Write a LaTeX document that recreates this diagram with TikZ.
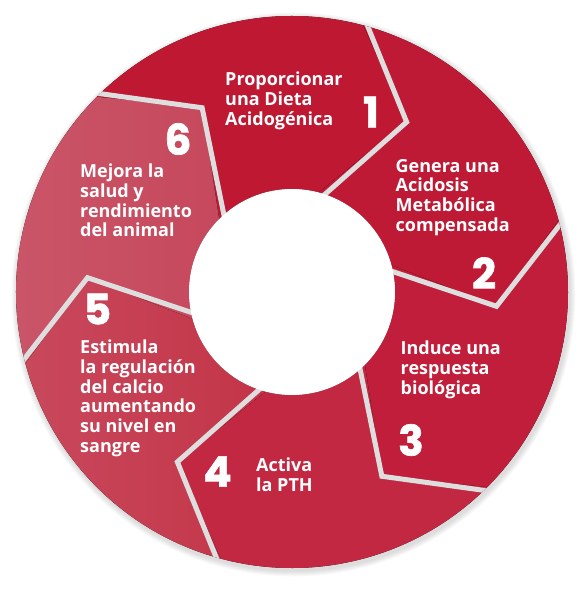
\documentclass[tikz,border=0pt]{standalone}
\usepackage{fontspec}
\newfontfamily\txtfont{Open Sans}
\newfontfamily\numfont{Poppins}[BoldFeatures={FakeBold=1.6}]

\definecolor{rojoA}{HTML}{BE1833}
\definecolor{rojoB}{HTML}{BE1A35}
\definecolor{rojoC}{HTML}{C01E3A}
\definecolor{rojoD}{HTML}{C22842}
\definecolor{rojoE}{HTML}{C33548}
\definecolor{rojoEl}{HTML}{C9485C}
\definecolor{rojoF}{HTML}{C6485C}
\definecolor{rojoFl}{HTML}{CB5669}
\definecolor{lineagris}{HTML}{DEDEDE}

\tikzset{
  etapa/.style={text=white, font=\txtfont\bfseries\fontsize{18}{19.7}\selectfont,
    align=left, anchor=north west, inner sep=0pt},
  numero/.style={text=white, font=\numfont\bfseries\fontsize{42}{42}\selectfont, inner sep=0pt},
  borde/.style={draw=lineagris, line width=5pt, line join=miter},
}

\begin{document}
\begin{tikzpicture}[x=1pt,y=1pt]
    \useasboundingbox (-292,-297) rectangle (296,292);

    % Centre et rayons
    \coordinate (O) at (0,0);
    \def\Rext{276}
    \def\Rint{103}
    \def\Rpun{205}

    % Ombre du disque
    \foreach \i in {1,...,6}
        \fill[black, opacity=0.025] (1.5,-2.5) circle[radius=\Rext+\i];

    % Secteurs (fleches dans le sens horaire)
    \foreach \k/\izq/\der in {1/rojoA/rojoA, 2/rojoB/rojoB, 3/rojoC/rojoC,
                              4/rojoD/rojoD, 5/rojoEl/rojoE, 6/rojoFl/rojoF}{
        \pgfmathsetmacro\ang{135-60*(\k-1)}
        \pgfmathsetmacro\fin{\ang-60}
        \pgfmathsetmacro\pa{\ang-19}
        \pgfmathsetmacro\pb{\ang-79}
        \fill[left color=\izq, right color=\der]
            (\ang:\Rext) arc[start angle=\ang, end angle=\fin, radius=\Rext]
            -- (\pb:\Rpun) -- (\fin:\Rint)
            arc[start angle=\fin, end angle=\ang, radius=\Rint]
            -- (\pa:\Rpun) -- cycle;
    }

    % Bordes en chevron
    \begin{scope}
        \clip (O) circle[radius=\Rext];
        \foreach \k in {0,...,5}{
            \pgfmathsetmacro\ang{75-60*\k}
            \pgfmathsetmacro\pa{\ang-19}
            \draw[borde] (\ang:\Rint-10) -- (\pa:\Rpun) -- (\ang:\Rext+6);
        }
    \end{scope}

    % Disque central
    \fill[white] (O) circle[radius=\Rint];

    % Textes
    \node[etapa] (t1) at (-67,220) {Proporcionar\\una Dieta\\Acidogénica};
    \node[etapa] (t2) at (103.5,133) {Genera una\\Acidosis\\Metabólica\\compensada};
    \node[etapa] (t3) at (108.5,-49) {Induce una\\respuesta\\biológica};
    \node[etapa] (t4) at (-36,-166) {Activa\\la PTH};
    \node[etapa] (t5) at (-212,-48) {Estimula\\la regulación\\del calcio\\aumentando\\su nivel en\\sangre};
    \node[etapa] (t6) at (-212,128) {Mejora la\\salud y\\rendimiento\\del animal};

    % Numeros
    \node[numero] (n1) at (79,180) {1};
    \node[numero] (n2) at (192,19) {2};
    \node[numero] (n3) at (119,-148) {3};
    \node[numero] (n4) at (-74.5,-179.5) {4};
    \node[numero] (n5) at (-194.5,-17) {5};
    \node[numero] (n6) at (-114,153) {6};
\end{tikzpicture}
\end{document}
